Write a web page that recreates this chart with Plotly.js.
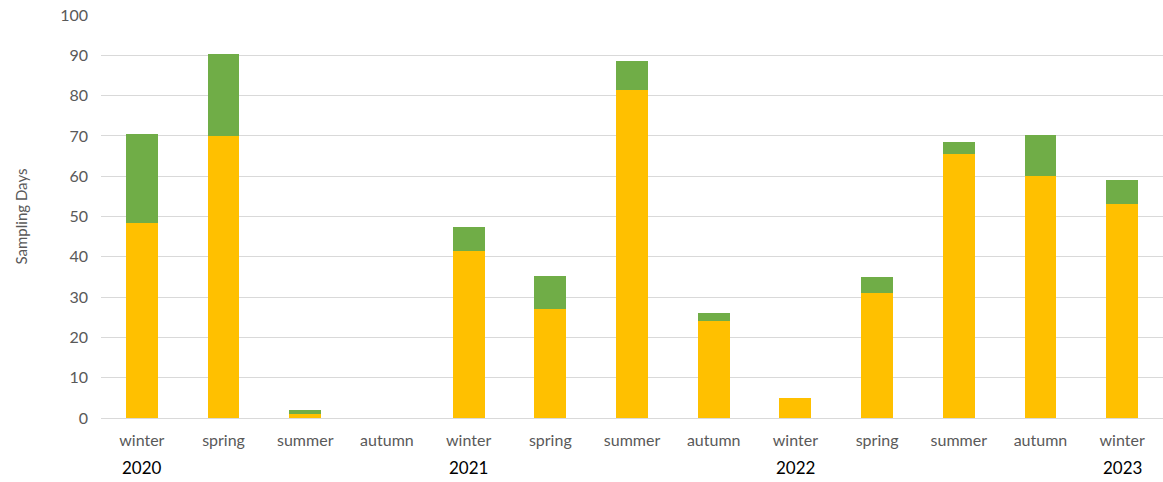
<!DOCTYPE html>
<html>
<head>
<meta charset="utf-8">
<script src="https://cdn.plot.ly/plotly-3.0.1.min.js"></script>
<style>html,body{margin:0;padding:0;background:#fff;}#chart{width:1163px;height:482px;}</style>
</head>
<body>
<div id="chart"></div>
<script>
const seasons = ["winter","spring","summer","autumn","winter","spring","summer","autumn","winter","spring","summer","autumn","winter"];
const yearLabels = ["2020","","","","2021","","","","2022","","","","2023"];
const seriesA = [48.5, 70, 1, 0, 41.5, 27, 81.5, 24, 5, 31, 65.5, 60, 53];
const seriesB = [22, 20.3, 1, 0, 6, 8.2, 7, 2, 0, 4, 3, 10.3, 6];
const yTicks = [0,10,20,30,40,50,60,70,80,90,100];

const xs = seasons.map((_, i) => i);
const font = "Lato, 'Open Sans', sans-serif";

const traces = [
  {type:"bar", x: xs, y: seriesA, marker:{color:"#FFC000"}, hoverinfo:"y"},
  {type:"bar", x: xs, y: seriesB, marker:{color:"#70AD47"}, hoverinfo:"y"}
];

const annotations = yearLabels.map((t, i) => t ? ({
  text: t, x: xs[i], xref: "x", y: -0.122, yref: "paper", yanchor: "middle",
  showarrow: false, font: {family: font, size: 17, color: "#000000"}
}) : null).filter(a => a);

const layout = {
  width: 1163, height: 482,
  margin: {l: 101, r: 0, t: 15, b: 64},
  barmode: "stack", bargap: 0.61, showlegend: false,
  paper_bgcolor: "#fff", plot_bgcolor: "#fff",
  xaxis: {
    range: [-0.5, 12.5], tickvals: xs, ticktext: seasons,
    showgrid: false, zeroline: false, showline: false, ticks: "",
    ticklabelstandoff: 11,
    tickfont: {family: font, size: 16, color: "#595959"}
  },
  yaxis: {
    range: [0, 100], tickvals: yTicks, showgrid: true, gridcolor: "#d9d9d9", gridwidth: 1,
    zeroline: true, zerolinecolor: "#d9d9d9", zerolinewidth: 1,
    showline: false, ticks: "", ticklabelstandoff: 12,
    tickfont: {family: font, size: 16, color: "#595959"},
    title: {text: "Sampling Days", font: {family: font, size: 15, color: "#595959"}, standoff: 28}
  },
  annotations: annotations
};

Plotly.newPlot("chart", traces, layout, {displayModeBar: false, staticPlot: true});
</script>
</body>
</html>
